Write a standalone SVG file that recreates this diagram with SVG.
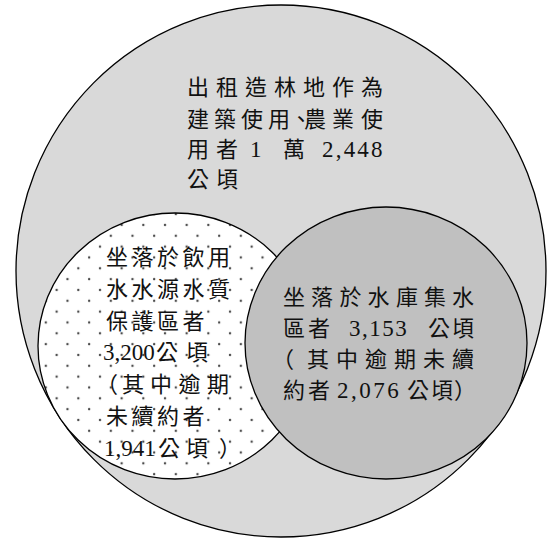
<svg xmlns="http://www.w3.org/2000/svg" width="551" height="542" viewBox="0 0 551 542">
<defs>
<pattern id="dots" patternUnits="userSpaceOnUse" x="8.3" y="3.3" width="21.67" height="21.67">
<rect width="21.67" height="21.67" fill="#ffffff"/>
<circle cx="5" cy="5" r="1.2" fill="#4a4a4a"/>
<circle cx="15.83" cy="15.83" r="1.2" fill="#4a4a4a"/>
</pattern>
</defs>
<style>
.c{stroke:#000;stroke-width:1.3}
.t{font-family:"Liberation Serif","Noto Sans CJK TC",serif;font-size:22px;fill:#111}
.n{font-size:23px}
</style>
<rect width="551" height="542" fill="#ffffff"/>
<g id="all-leased">
<ellipse class="c" cx="281" cy="271" rx="265" ry="266" fill="#d9d9d9"/>
<g class="t">
<text x="187 216 245 274 303 332 361" y="95">出租造林地作為</text>
<text x="187 214 241 268 290 304 332 361" y="127">建築使用、農業使</text>
<text y="157"><tspan x="187 216">用者</tspan><tspan class="n" x="250">1</tspan><tspan x="283">萬</tspan><tspan class="n" x="322" letter-spacing="2.2">2,448</tspan></text>
<text x="187 216" y="187">公頃</text>
</g>
</g>
<g id="water-source">
<ellipse class="c" cx="175" cy="346" rx="137" ry="133" fill="url(#dots)"/>
<g class="t">
<text x="106" y="265" letter-spacing="3.5">坐落於飲用</text>
<text x="106" y="297" letter-spacing="3.5">水水源水質</text>
<text x="106" y="329" letter-spacing="3.5">保護區者</text>
<text y="360"><tspan class="n" x="103">3,200</tspan><tspan x="156 186">公頃</tspan></text>
<text x="96 122 150 178.5 207" y="392">（其中逾期</text>
<text x="106 131.5 157 182.5" y="424">未續約者</text>
<text y="456"><tspan class="n" x="104">1,941</tspan><tspan x="158 186 219">公頃）</tspan></text>
</g>
</g>
<g id="reservoir">
<ellipse class="c" cx="386" cy="343" rx="141" ry="136" fill="#c0c0c0"/>
<g class="t">
<text x="283 311 339.5 367.5 396 424 452" y="305">坐落於水庫集水</text>
<text y="336"><tspan x="283 308">區者</tspan><tspan class="n" x="349" letter-spacing="1.5">3,153</tspan><tspan x="428 452">公頃</tspan></text>
<text x="272 307 336 365 394 423 452" y="367">（其中逾期未續</text>
<text y="398"><tspan x="283 308">約者</tspan><tspan class="n" x="337" letter-spacing="2.5">2,076</tspan><tspan x="407 431 454">公頃）</tspan></text>
</g>
</g>
<g id="connectors"/>
</svg>
